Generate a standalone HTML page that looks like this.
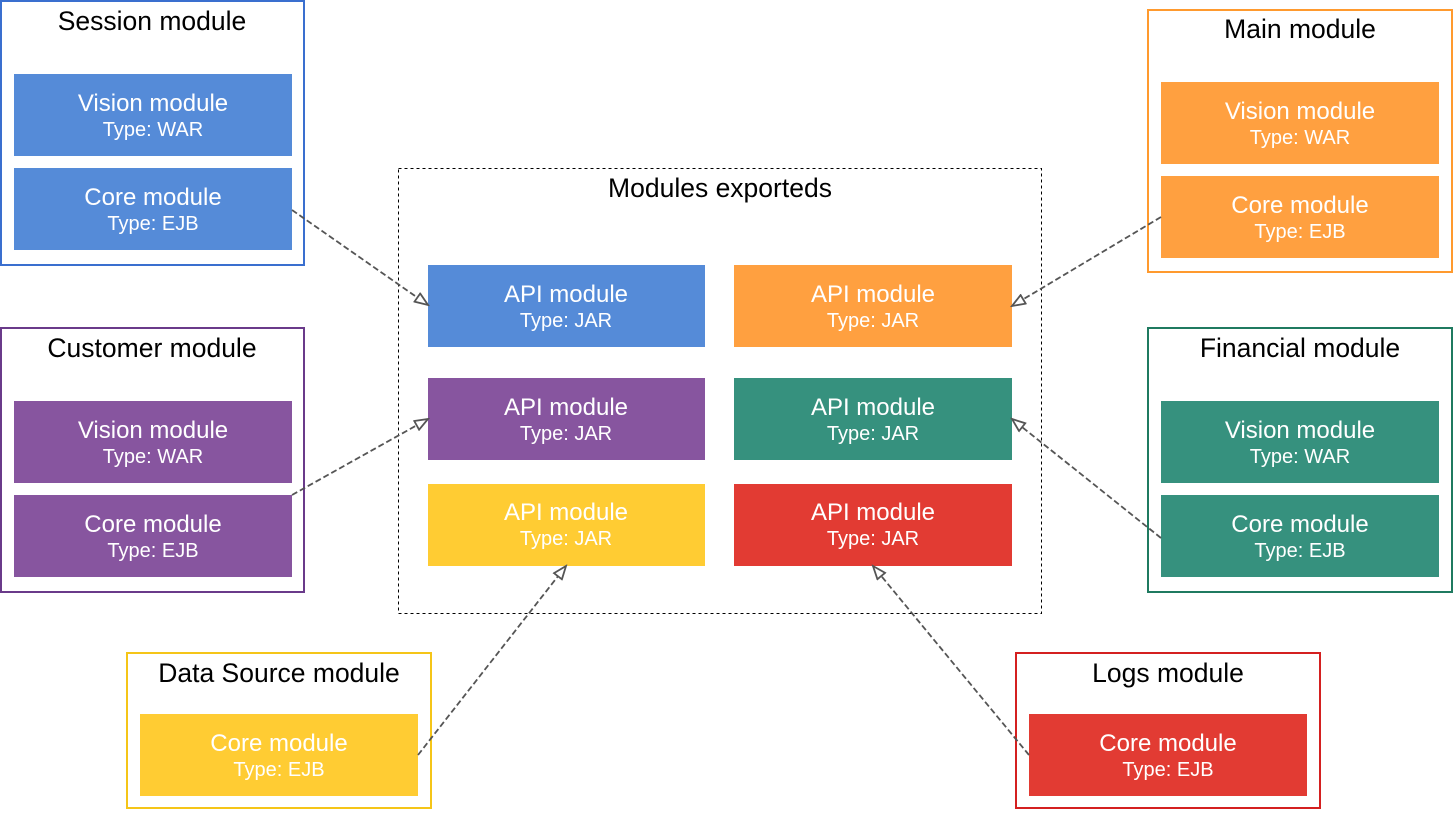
<!DOCTYPE html>
<html><head><meta charset="utf-8"><style>
html,body{margin:0;padding:0;background:#fff;}
text{font-family:"Liberation Sans",Arial,sans-serif;}
</style></head><body>
<svg width="1453" height="809" viewBox="0 0 1453 809" xmlns="http://www.w3.org/2000/svg">
<defs>
<marker id="tri" markerWidth="16" markerHeight="12" refX="14" refY="6" orient="auto" markerUnits="userSpaceOnUse">
<path d="M1,1 L14,6 L1,11 Z" fill="#fff" stroke="#555" stroke-width="1.8"/>
</marker>
</defs>
<g font-size="26.5" text-anchor="middle">
<rect x="1" y="1" width="303" height="264" fill="none" stroke="#3a6fcf" stroke-width="2"/>
<text x="152" y="30">Session module</text>
<rect x="1148" y="10" width="304" height="262" fill="none" stroke="#ff9a2e" stroke-width="2"/>
<text x="1300" y="38">Main module</text>
<rect x="1" y="328" width="303" height="264" fill="none" stroke="#6a3a8a" stroke-width="2"/>
<text x="152" y="357">Customer module</text>
<rect x="1148" y="328" width="304" height="264" fill="none" stroke="#1f7a60" stroke-width="2"/>
<text x="1300" y="357">Financial module</text>
<rect x="127" y="653" width="304" height="155" fill="none" stroke="#f5c518" stroke-width="2"/>
<text x="279" y="682">Data Source module</text>
<rect x="1016" y="653" width="304" height="155" fill="none" stroke="#d42020" stroke-width="2"/>
<text x="1168" y="682">Logs module</text>
<rect x="398.5" y="168.5" width="643" height="445" fill="none" stroke="#000" stroke-width="1" stroke-dasharray="3,3"/>
<text x="720" y="197">Modules exporteds</text>
</g>
<g font-size="24" fill="#fff" text-anchor="middle">
<rect x="14" y="74" width="278" height="82" fill="#558bd8"/><text x="153" y="111">Vision module</text><text x="153" y="136" font-size="20">Type: WAR</text>
<rect x="14" y="168" width="278" height="82" fill="#558bd8"/><text x="153" y="205">Core module</text><text x="153" y="230" font-size="20">Type: EJB</text>
<rect x="1161" y="82" width="278" height="82" fill="#ffa040"/><text x="1300" y="119">Vision module</text><text x="1300" y="144" font-size="20">Type: WAR</text>
<rect x="1161" y="176" width="278" height="82" fill="#ffa040"/><text x="1300" y="213">Core module</text><text x="1300" y="238" font-size="20">Type: EJB</text>
<rect x="14" y="401" width="278" height="82" fill="#87559f"/><text x="153" y="438">Vision module</text><text x="153" y="463" font-size="20">Type: WAR</text>
<rect x="14" y="495" width="278" height="82" fill="#87559f"/><text x="153" y="532">Core module</text><text x="153" y="557" font-size="20">Type: EJB</text>
<rect x="1161" y="401" width="278" height="82" fill="#36917e"/><text x="1300" y="438">Vision module</text><text x="1300" y="463" font-size="20">Type: WAR</text>
<rect x="1161" y="495" width="278" height="82" fill="#36917e"/><text x="1300" y="532">Core module</text><text x="1300" y="557" font-size="20">Type: EJB</text>
<rect x="140" y="714" width="278" height="82" fill="#ffcc33"/><text x="279" y="751">Core module</text><text x="279" y="776" font-size="20">Type: EJB</text>
<rect x="1029" y="714" width="278" height="82" fill="#e23b33"/><text x="1168" y="751">Core module</text><text x="1168" y="776" font-size="20">Type: EJB</text>
<rect x="428" y="265" width="277" height="82" fill="#558bd8"/><text x="566" y="302">API module</text><text x="566" y="327" font-size="20">Type: JAR</text>
<rect x="734" y="265" width="278" height="82" fill="#ffa040"/><text x="873" y="302">API module</text><text x="873" y="327" font-size="20">Type: JAR</text>
<rect x="428" y="378" width="277" height="82" fill="#87559f"/><text x="566" y="415">API module</text><text x="566" y="440" font-size="20">Type: JAR</text>
<rect x="734" y="378" width="278" height="82" fill="#36917e"/><text x="873" y="415">API module</text><text x="873" y="440" font-size="20">Type: JAR</text>
<rect x="428" y="484" width="277" height="82" fill="#ffcc33"/><text x="566" y="520">API module</text><text x="566" y="545" font-size="20">Type: JAR</text>
<rect x="734" y="484" width="278" height="82" fill="#e23b33"/><text x="873" y="520">API module</text><text x="873" y="545" font-size="20">Type: JAR</text>
</g>
<g stroke="#555" stroke-width="1.8" stroke-dasharray="6,3" fill="none">
<line x1="292" y1="210" x2="428" y2="305" marker-end="url(#tri)"/>
<line x1="1161" y1="217" x2="1012" y2="306" marker-end="url(#tri)"/>
<line x1="292" y1="495" x2="428" y2="419" marker-end="url(#tri)"/>
<line x1="1161" y1="538" x2="1012" y2="419" marker-end="url(#tri)"/>
<line x1="418" y1="755" x2="566" y2="566" marker-end="url(#tri)"/>
<line x1="1029" y1="755" x2="873" y2="566" marker-end="url(#tri)"/>
</g>
</svg>
</body></html>
